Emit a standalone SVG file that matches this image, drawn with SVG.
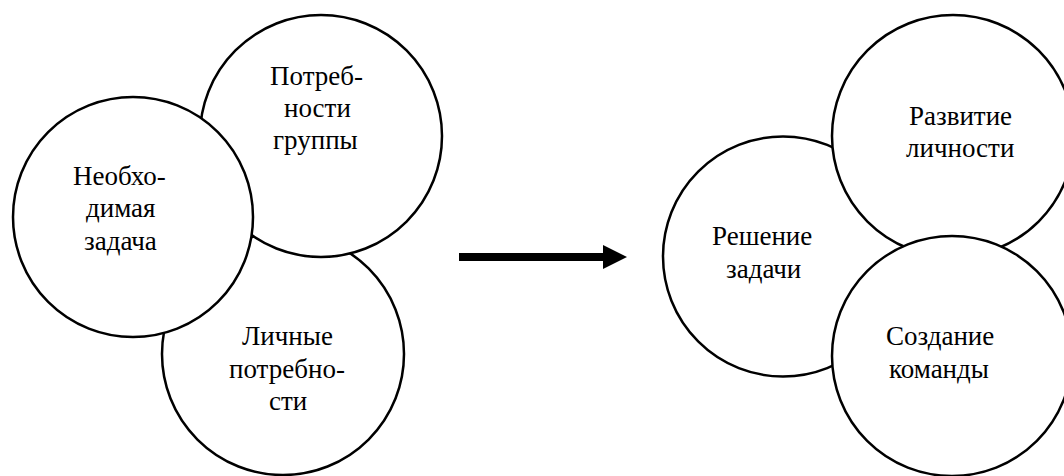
<svg xmlns="http://www.w3.org/2000/svg" width="1064" height="476" viewBox="0 0 1064 476">
<style>
.c{fill:#fff;stroke:#000;stroke-width:2.5}
</style>
<rect width="1064" height="476" fill="#fff"/>
<g id="lichnye">
<circle class="c" cx="283" cy="354" r="121"/>
<text font-family="Liberation Serif" font-size="27" x="242" y="345">Личные</text>
<text font-family="Liberation Serif" font-size="27" x="229" y="378">потребно-</text>
<text font-family="Liberation Serif" font-size="27" x="269" y="410">сти</text>
</g>
<g id="potrebnosti">
<circle class="c" cx="321" cy="136" r="121"/>
<text font-family="Liberation Serif" font-size="27" x="270" y="85">Потреб-</text>
<text font-family="Liberation Serif" font-size="27" x="284" y="117">ности</text>
<text font-family="Liberation Serif" font-size="27" x="273" y="149">группы</text>
</g>
<g id="neobhodimaya">
<circle class="c" cx="133" cy="217" r="120"/>
<text font-family="Liberation Serif" font-size="27" x="73" y="185">Необхо-</text>
<text font-family="Liberation Serif" font-size="27" x="86" y="217">димая</text>
<text font-family="Liberation Serif" font-size="27" x="84" y="250">задача</text>
</g>
<g id="reshenie">
<circle class="c" cx="783" cy="256.5" r="120"/>
<text font-family="Liberation Serif" font-size="27" x="712" y="245">Решение</text>
<text font-family="Liberation Serif" font-size="27" x="726" y="278">задачи</text>
</g>
<g id="razvitie">
<circle class="c" cx="953" cy="136" r="121"/>
<text font-family="Liberation Serif" font-size="27" x="909" y="125">Развитие</text>
<text font-family="Liberation Serif" font-size="27" x="906" y="157">личности</text>
</g>
<g id="sozdanie">
<circle class="c" cx="952" cy="356" r="120"/>
<text font-family="Liberation Serif" font-size="27" x="886" y="345">Создание</text>
<text font-family="Liberation Serif" font-size="27" x="889" y="378">команды</text>
</g>
<g id="connectors">
<rect x="459" y="253" width="145" height="8" fill="#000"/>
<polygon points="603,245 627,257 603,269" fill="#000"/>
</g>
</svg>
